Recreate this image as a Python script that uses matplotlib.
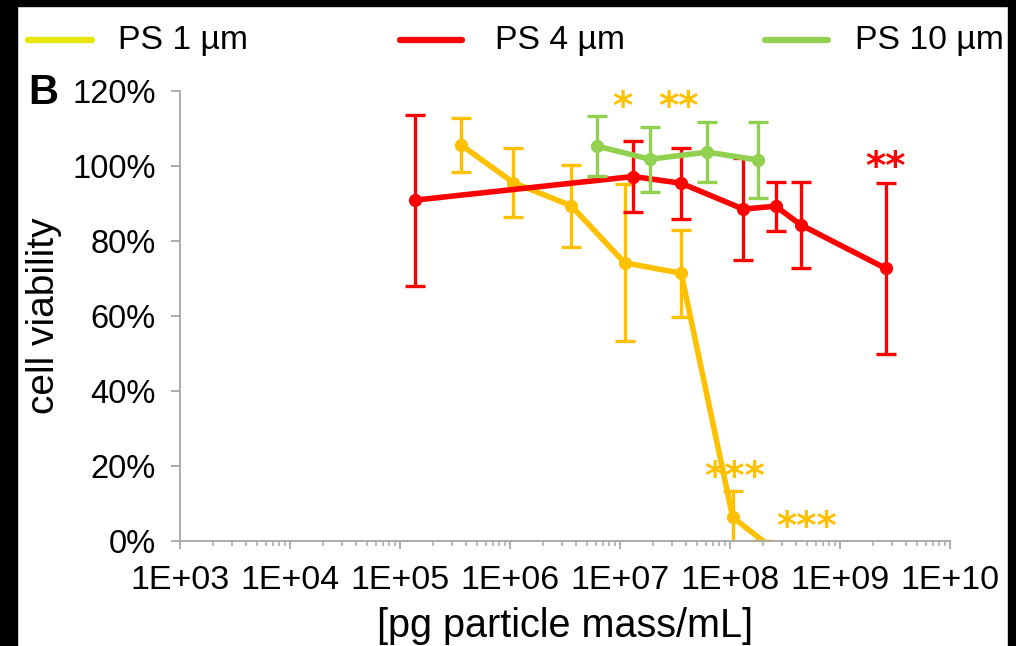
import numpy as np
import matplotlib
matplotlib.use("Agg")
import matplotlib.pyplot as plt
from matplotlib.lines import Line2D
from matplotlib.patches import Rectangle
from matplotlib.ticker import LogLocator, FixedLocator, FuncFormatter, NullFormatter

# ---------------- data ----------------
series_names = ["PS 1 µm", "PS 4 µm", "PS 10 µm"]

ps1_x = [3.6e5, 1.07e6, 3.6e6, 1.1e7, 3.6e7, 1.06e8, 2.0e8]
ps1_y = [105.6, 95.6, 89.4, 74.2, 71.4, 6.3, 0.0]
ps1_err = [7.3, 9.1, 10.9, 20.9, 11.6, 7.0, 0.0]

ps4_x = [1.37e5, 1.32e7, 3.6e7, 1.32e8, 2.6e8, 4.4e8, 2.6e9]
ps4_y = [90.9, 97.2, 95.4, 88.5, 89.3, 84.3, 72.7]
ps4_err = [22.8, 9.6, 9.5, 13.6, 6.5, 11.5, 22.8]

ps10_x = [6.2e6, 1.87e7, 6.2e7, 1.8e8]
ps10_y = [105.3, 101.8, 103.7, 101.6]
ps10_err = [8.0, 8.7, 8.1, 10.2]

y_ticks = [0, 20, 40, 60, 80, 100, 120]
x_ticks = [1e3, 1e4, 1e5, 1e6, 1e7, 1e8, 1e9, 1e10]

# significance marks: (x, y, text, colour)
sig_marks = [
    (1.06e7, 117.6, "*", "orange"),
    (3.37e7, 117.6, "**", "orange"),
    (1.11e8, 18.9, "***", "orange"),
    (5.0e8, 5.6, "***", "orange"),
    (2.62e9, 101.6, "**", "red"),
]

# ---------------- style ----------------
C_ORANGE = "#FFC000"
C_RED = "#FF0000"
C_GREEN = "#92D050"
C_YELLOW = "#E6E600"
C_AXIS = "#A6A6A6"
colmap = {"orange": C_ORANGE, "red": C_RED}

plt.rcParams["font.family"] = ["Liberation Sans", "DejaVu Sans"]

W, H = 1016, 646
fig = plt.figure(figsize=(W / 100, H / 100), dpi=100)
ax = fig.add_axes([180 / W, 1 - 541 / H, 770 / W, 450 / H])

def draw(x, y, err, color, z, markevery=None):
    ax.errorbar(x, y, yerr=err, fmt="none", ecolor=color, elinewidth=2.4,
                capsize=7, capthick=2.4, zorder=z)
    ax.plot(x, y, color=color, lw=4.0, marker="o", ms=8.5, markevery=markevery,
            zorder=z + 0.5, solid_capstyle="round")

draw(ps1_x, ps1_y, ps1_err, C_ORANGE, 2, markevery=list(range(len(ps1_x) - 1)))
draw(ps4_x, ps4_y, ps4_err, C_RED, 3)
draw(ps10_x, ps10_y, ps10_err, C_GREEN, 4)

star_offset = ax.transData + matplotlib.transforms.ScaledTranslation(0, -8 / 100, fig.dpi_scale_trans)
for x, y, t, c in sig_marks:
    ax.text(x, y, t, color=colmap[c], fontsize=28, fontweight="bold", ha="center",
            va="center", family="DejaVu Sans", zorder=6, transform=star_offset)

ax.set_xscale("log")
ax.set_xlim(1e3, 1e10)
ax.set_ylim(0, 120)

ax.xaxis.set_major_locator(FixedLocator(x_ticks))
ax.xaxis.set_minor_locator(LogLocator(base=10, subs=np.arange(2, 10), numticks=20))
ax.xaxis.set_minor_formatter(NullFormatter())
ax.xaxis.set_major_formatter(FuncFormatter(lambda v, p: "1E+%02d" % int(round(np.log10(v)))))
ax.yaxis.set_major_locator(FixedLocator(y_ticks))
ax.yaxis.set_major_formatter(FuncFormatter(lambda v, p: "%d%%" % v))

for s in ["top", "right"]:
    ax.spines[s].set_visible(False)
for s in ["left", "bottom"]:
    ax.spines[s].set_color(C_AXIS)
    ax.spines[s].set_linewidth(1.3)

ax.tick_params(axis="y", which="major", direction="out", length=6.5, width=1.3,
               color=C_AXIS, labelsize=23.5, pad=11)
ax.tick_params(axis="x", which="major", direction="out", length=6, width=1.3,
               color=C_AXIS, labelsize=24.5, pad=11)
ax.tick_params(axis="x", which="minor", direction="out", length=3.6, width=1.1,
               color=C_AXIS)

ax.set_ylabel("cell viability", fontsize=28, labelpad=7)
ax.set_xlabel("[pg particle mass/mL]", fontsize=28.5, labelpad=8)

# panel letter
fig.text(28 / W, 1 - 93 / H, "B", fontsize=30, fontweight="bold", ha="left", va="center")

# legend (manual, spread across top)
leg_items = [(28, 92, 118, C_YELLOW), (400, 462, 495, C_RED), (765, 828, 855, C_GREEN)]
for (x0, x1, xt, col), name in zip(leg_items, series_names):
    fig.add_artist(Line2D([x0 / W, x1 / W], [1 - 40 / H, 1 - 40 / H], color=col,
                          lw=4.5, solid_capstyle="round", transform=fig.transFigure))
    fig.text(xt / W, 1 - 40 / H, name, fontsize=24.3, ha="left", va="center")

# black frame strips
for (x, y, w, h) in [(0, 0, 17, H), (0, 0, W, 6), (1008, 0, 8, H)]:
    fig.add_artist(Rectangle((x / W, 1 - (y + h) / H), w / W, h / H, color="black",
                             transform=fig.transFigure, zorder=10))

fig.savefig("out.png", dpi=100)
